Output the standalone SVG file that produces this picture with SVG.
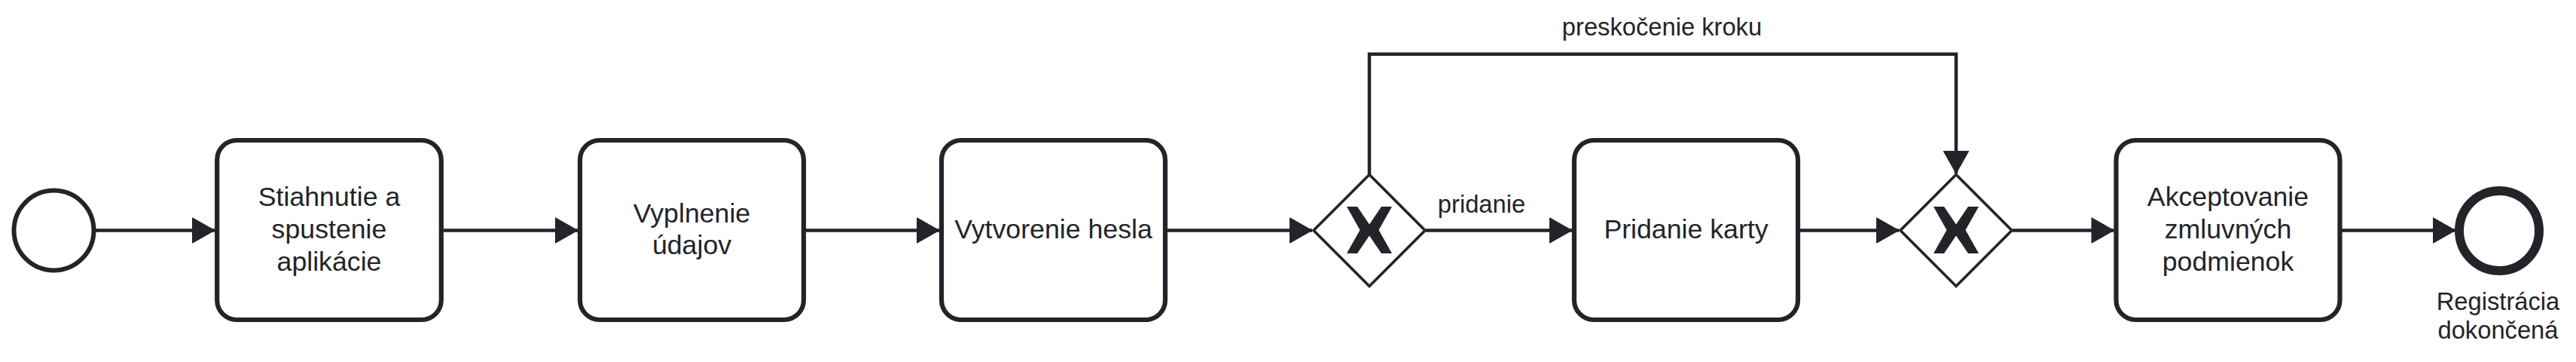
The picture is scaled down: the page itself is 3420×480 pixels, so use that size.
<svg xmlns="http://www.w3.org/2000/svg" width="3420" height="480" viewBox="0 0 3420 480">
  <defs>
    <style>
      .task { fill: #ffffff; stroke: #22242a; stroke-width: 6.2; }
      .gw { fill: #ffffff; stroke: #22242a; stroke-width: 3.6; stroke-linejoin: miter; }
      .xmark { fill: #22242a; stroke: none; }
      .flow { fill: none; stroke: #22242a; stroke-width: 4.5; stroke-linejoin: miter; marker-end: url(#arrow); }
      .t { font-family: "Liberation Sans", Arial, sans-serif; font-size: 35.7px; fill: #22242a; text-anchor: middle; }
      .lbl { font-family: "Liberation Sans", Arial, sans-serif; font-size: 32.7px; fill: #22242a; text-anchor: middle; }
    </style>
    <marker id="arrow" markerUnits="userSpaceOnUse" markerWidth="31" markerHeight="36" refX="29.5" refY="17" orient="auto" overflow="visible">
      <path d="M0,0.3 L29.5,17 L0,33.7 Z" fill="#22242a" stroke="#22242a" stroke-width="1"/>
    </marker>
    <path id="xshape" class="xmark" d="M-30,-31 L-16,-31 L0,-7.5 L16,-31 L30,-31 L12.5,0 L30,31 L16,31 L0,7.5 L-16,31 L-30,31 L-12.5,0 Z"/>
  </defs>
  <rect x="0" y="0" width="3420" height="480" fill="#ffffff"/>

  <g id="connectors">
    <path class="flow" d="M125,305.5 L285,305.5"/>
    <path class="flow" d="M589,305.5 L767,305.5"/>
    <path class="flow" d="M1070,305.5 L1247,305.5"/>
    <path class="flow" d="M1549,305.5 L1742,305.5"/>
    <path class="flow" d="M1893,305.5 L2087,305.5"/>
    <path class="flow" d="M2389,305.5 L2521,305.5"/>
    <path class="flow" d="M1818,231 L1818,71.7 L2597,71.7 L2597,230"/>
    <path class="flow" d="M2672,305.5 L2806.5,305.5"/>
    <path class="flow" d="M3109,305.5 L3260,305.5"/>
    <text class="lbl" x="1967" y="281.7">pridanie</text>
    <text class="lbl" x="2206.5" y="47.3">preskočenie kroku</text>
  </g>

  <g id="start">
    <circle cx="71.5" cy="305.5" r="53" fill="#ffffff" stroke="#22242a" stroke-width="6"/>
  </g>

  <g id="task-stiahnutie">
    <rect class="task" x="288.2" y="186" width="297.6" height="238" rx="26" ry="26"/>
    <text class="t" x="437" y="273.3">Stiahnutie a</text>
    <text class="t" x="437" y="316">spustenie</text>
    <text class="t" x="437" y="358.7">aplikácie</text>
  </g>

  <g id="task-vyplnenie">
    <rect class="task" x="770" y="186" width="297" height="238" rx="26" ry="26"/>
    <text class="t" x="918.5" y="294.6">Vyplnenie</text>
    <text class="t" x="918.5" y="337.4">údajov</text>
  </g>

  <g id="task-heslo">
    <rect class="task" x="1250" y="186" width="297" height="238" rx="26" ry="26"/>
    <text class="t" x="1398.5" y="316">Vytvorenie hesla</text>
  </g>

  <g id="gateway-split">
    <polygon class="gw" points="1818,231.5 1892,305.5 1818,379.5 1744,305.5"/>
    <use href="#xshape" x="1818" y="305"/>
  </g>

  <g id="task-karta">
    <rect class="task" x="2090" y="186" width="297" height="238" rx="26" ry="26"/>
    <text class="t" x="2238.5" y="316">Pridanie karty</text>
  </g>

  <g id="gateway-join">
    <polygon class="gw" points="2597,231.5 2671,305.5 2597,379.5 2523,305.5"/>
    <use href="#xshape" x="2597" y="305"/>
  </g>

  <g id="task-akceptovanie">
    <rect class="task" x="2809.5" y="186" width="297" height="238" rx="26" ry="26"/>
    <text class="t" x="2958" y="273.3">Akceptovanie</text>
    <text class="t" x="2958" y="316">zmluvných</text>
    <text class="t" x="2958" y="358.7">podmienok</text>
  </g>

  <g id="end">
    <circle cx="3318" cy="306" r="53" fill="#ffffff" stroke="#22242a" stroke-width="12"/>
    <text class="lbl" x="3316.5" y="410.7">Registrácia</text>
    <text class="lbl" x="3316.5" y="449">dokončená</text>
  </g>
</svg>
